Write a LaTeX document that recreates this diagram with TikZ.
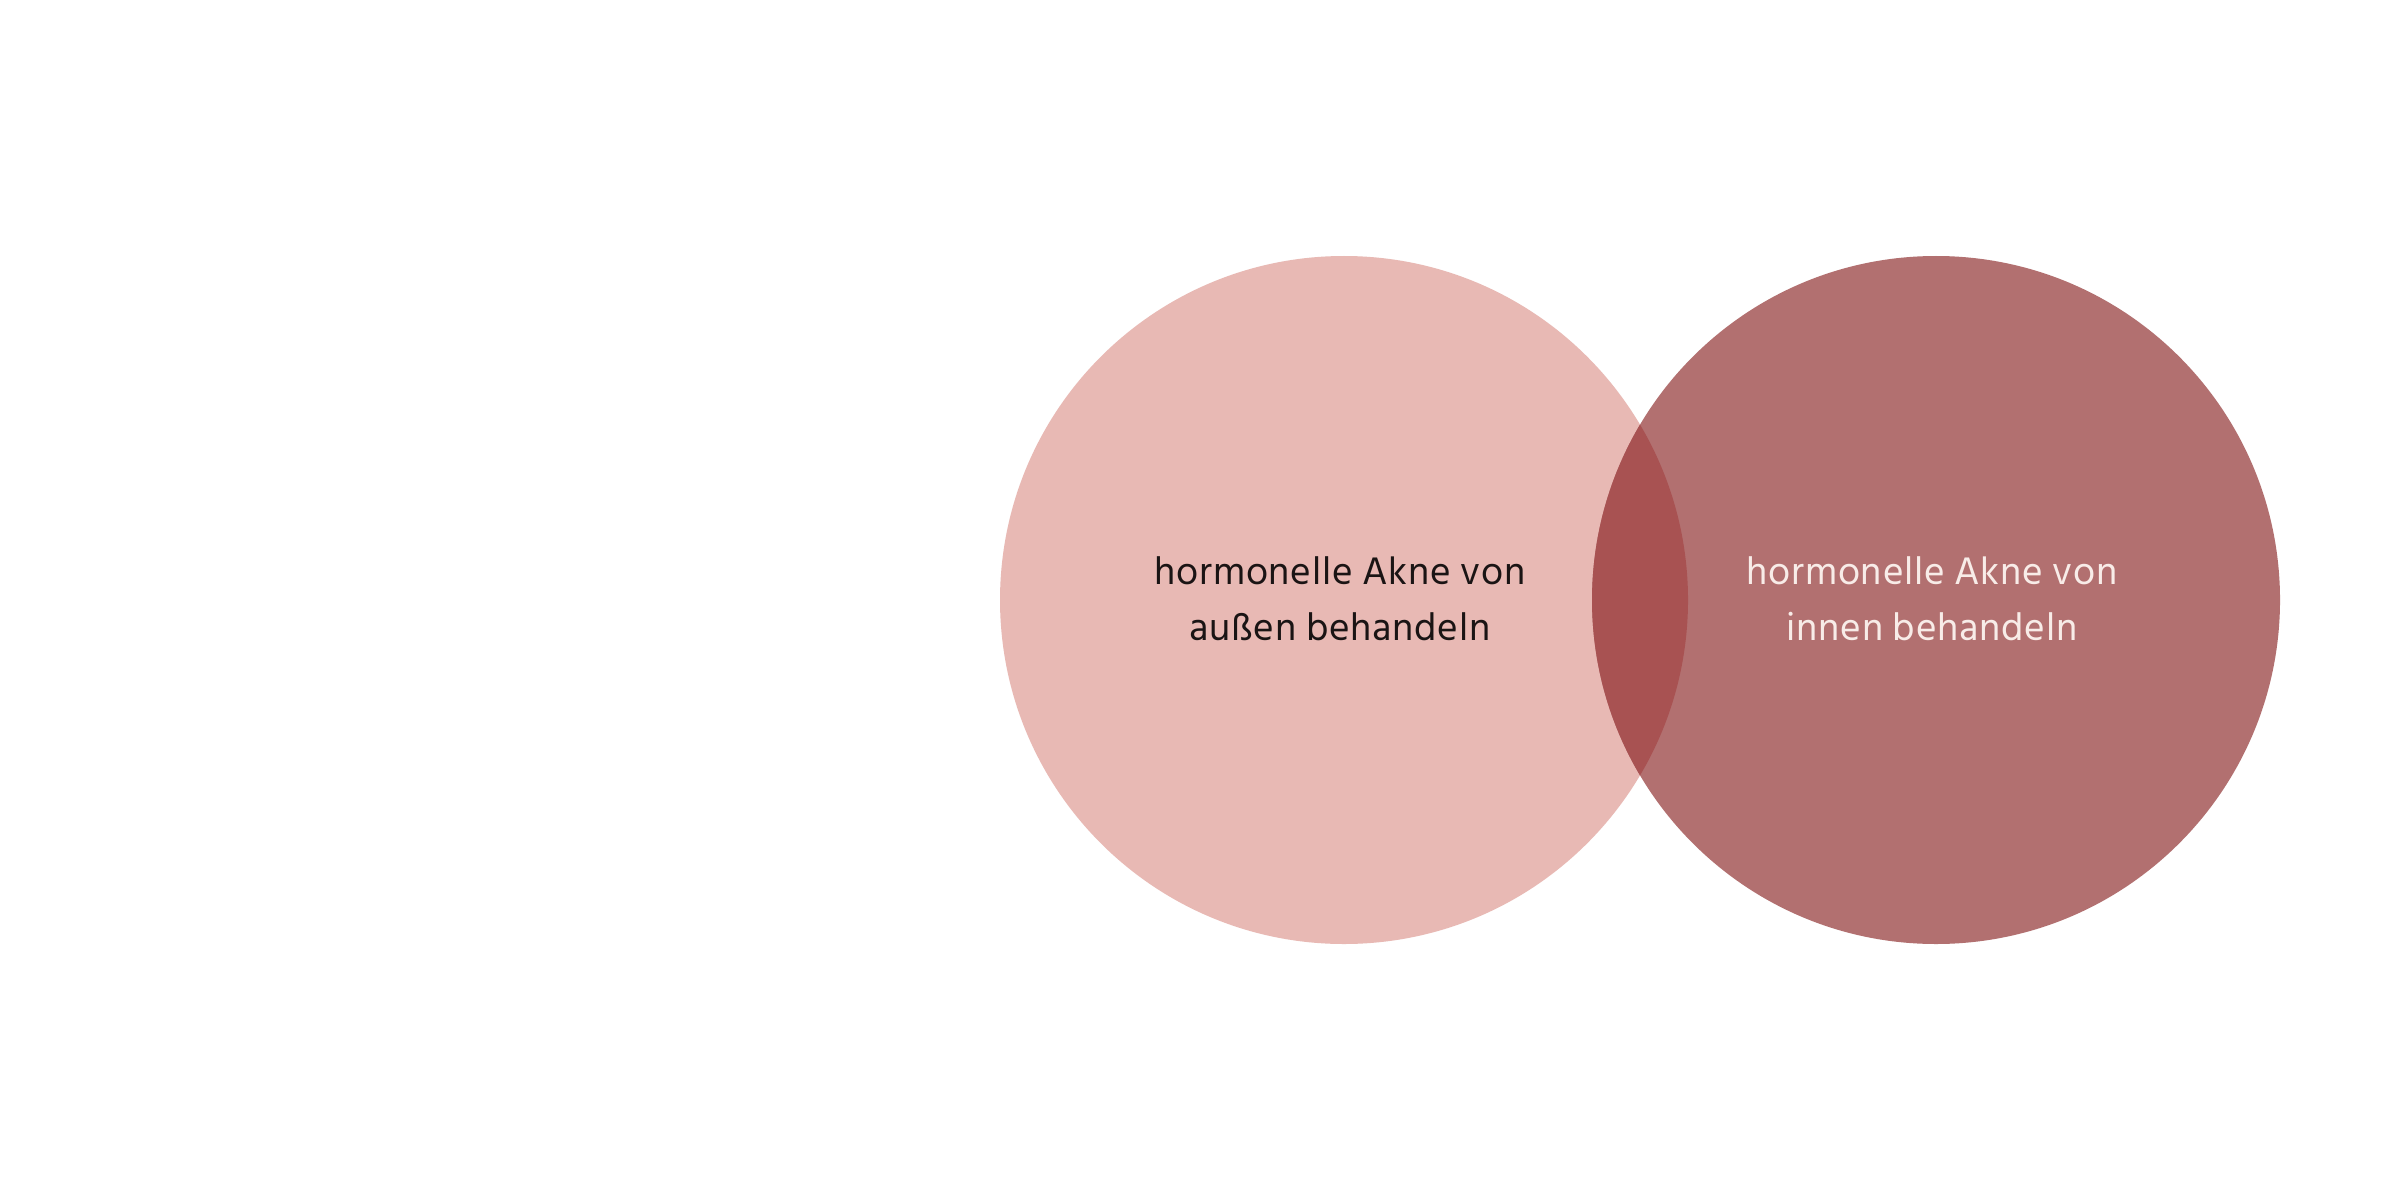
\documentclass[tikz,border=0pt]{standalone}
\usepackage{fontspec}
\setmainfont{Hind Siliguri}[LetterSpace=2]
\definecolor{pinkL}{HTML}{E8B9B4}
\definecolor{roseR}{HTML}{B27070}
\definecolor{roseX}{HTML}{A85252}
\definecolor{txtL}{HTML}{1A1414}
\definecolor{txtR}{HTML}{F8ECE8}
\tikzset{
  lbl/.style={align=center, font=\fontsize{11.2}{15.8}\selectfont, inner sep=0pt}
}
\begin{document}
\begin{tikzpicture}
\useasboundingbox[fill=white] (0,0) rectangle (24,12);
\coordinate (cl) at (13.44,6);
\coordinate (cr) at (19.36,6);
\fill[pinkL] (cl) circle (3.44);
\fill[roseR] (cr) circle (3.44);
\begin{scope}
  \clip (cl) circle (3.44);
  \fill[roseX] (cr) circle (3.44);
\end{scope}
\node[lbl, text=txtL] (a) at (13.40,6.01) {hormonelle Akne von\\außen behandeln};
\node[lbl, text=txtR] (b) at (19.32,6.01) {hormonelle Akne von\\innen behandeln};
\end{tikzpicture}
\end{document}
